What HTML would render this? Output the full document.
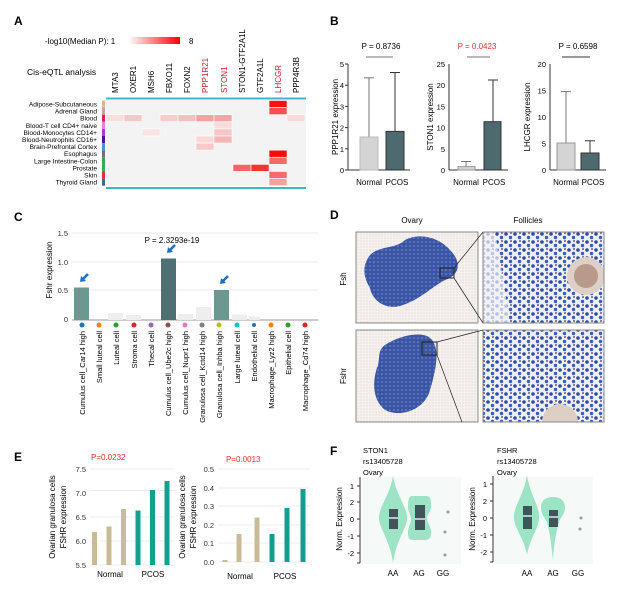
<!DOCTYPE html>
<html><head><meta charset="utf-8"><style>
body{margin:0;background:#fff}
svg{display:block;font-family:"Liberation Sans",Arial,sans-serif}
</style></head><body>
<svg width="644" height="589" viewBox="0 0 644 589" xmlns="http://www.w3.org/2000/svg">
<defs>
<linearGradient id="lg" x1="0" x2="1"><stop offset="0" stop-color="#fff"/><stop offset="1" stop-color="#f00"/></linearGradient>
<pattern id="cells" width="9" height="8" patternUnits="userSpaceOnUse"><rect width="9" height="8" fill="#eef0f6"/><circle cx="2" cy="2" r="1.8" fill="#2c4aa8"/><circle cx="6.5" cy="5.5" r="1.7" fill="#3a5bc0"/><circle cx="7" cy="1" r="1" fill="#6a5a70"/></pattern>
<pattern id="tis" width="4" height="4" patternUnits="userSpaceOnUse"><rect width="4" height="4" fill="#3a55a5"/><circle cx="2" cy="2" r="0.8" fill="#7f93c8"/></pattern>
<pattern id="bg" width="3" height="3" patternUnits="userSpaceOnUse"><rect width="3" height="3" fill="#f5f1ee"/><circle cx="1" cy="1" r="0.45" fill="#d0bdb0"/></pattern>
<clipPath id="c2"><rect x="483" y="330" width="121" height="92"/></clipPath>
<clipPath id="c1"><rect x="483" y="232" width="121" height="91"/></clipPath>
</defs>

<!-- ============ A ============ -->
<text x="14" y="25" font-size="12" font-weight="bold">A</text>
<text x="45" y="44" font-size="8">-log10(Median P): 1</text>
<rect x="128" y="37" width="52" height="7" fill="url(#lg)"/>
<text x="189" y="44" font-size="8">8</text>
<text x="27" y="75" font-size="8.5">Cis-eQTL analysis</text>
<g font-size="8">
<text transform="translate(118,93) rotate(-90)">MTA3</text>
<text transform="translate(136,93) rotate(-90)">OXER1</text>
<text transform="translate(154,93) rotate(-90)">MSH6</text>
<text transform="translate(172,93) rotate(-90)">FBXO11</text>
<text transform="translate(190,93) rotate(-90)">FOXN2</text>
<text transform="translate(208,93) rotate(-90)" fill="#d0202a">PPP1R21</text>
<text transform="translate(227,93) rotate(-90)" fill="#d0202a">STON1</text>
<text transform="translate(245,93) rotate(-90)">STON1-GTF2A1L</text>
<text transform="translate(263,93) rotate(-90)">GTF2A1L</text>
<text transform="translate(281,93) rotate(-90)" fill="#d0202a">LHCGR</text>
<text transform="translate(299,93) rotate(-90)">PPP4R3B</text>
</g>
<rect x="106" y="100" width="200" height="86" fill="#f3f3f3"/>
<g stroke="#fff" stroke-width="0.6">
<rect x="269" y="100.5" width="18" height="7" fill="#ff1010"/>
<rect x="269" y="107.6" width="18" height="7" fill="#f85050"/>
<rect x="269" y="150.2" width="18" height="7" fill="#ff0a0a"/>
<rect x="269" y="157.3" width="18" height="7" fill="#f76a6a"/>
<rect x="269" y="171.5" width="18" height="7" fill="#f66a6a"/>
<rect x="269" y="178.6" width="18" height="7" fill="#f5a0a0"/>
<rect x="106" y="114.7" width="18" height="7" fill="#f9dede"/>
<rect x="124" y="114.7" width="18" height="7" fill="#f7c8c8"/>
<rect x="160" y="114.7" width="18" height="7" fill="#f7cccc"/>
<rect x="178" y="114.7" width="18" height="7" fill="#f6c0c0"/>
<rect x="196" y="114.7" width="18" height="7" fill="#f3a2a2"/>
<rect x="214" y="114.7" width="18" height="7" fill="#f4a4a4"/>
<rect x="287" y="114.7" width="18" height="7" fill="#f9dada"/>
<rect x="214" y="121.8" width="18" height="7" fill="#f9dcdc"/>
<rect x="142" y="128.9" width="18" height="7" fill="#f9e2e2"/>
<rect x="214" y="128.9" width="18" height="7" fill="#f7c6c6"/>
<rect x="196" y="136" width="18" height="7" fill="#f9d8d8"/>
<rect x="214" y="136" width="18" height="7" fill="#f5b6b6"/>
<rect x="196" y="143.1" width="18" height="7" fill="#f7c8c8"/>
<rect x="233" y="164.4" width="18" height="7" fill="#f56464"/>
<rect x="251" y="164.4" width="18" height="7" fill="#f53434"/>
</g>
<line x1="106" y1="98.5" x2="306" y2="98.5" stroke="#3bb5c8" stroke-width="2"/>
<line x1="106" y1="188" x2="306" y2="188" stroke="#3bb5c8" stroke-width="2"/>
<g font-size="6.6" text-anchor="end">
<text x="97" y="106.5">Adipose-Subcutaneous</text>
<text x="97" y="113.6">Adrenal Gland</text>
<text x="97" y="120.7">Blood</text>
<text x="97" y="127.8">Blood-T cell CD4+ naive</text>
<text x="97" y="134.9">Blood-Monocytes CD14+</text>
<text x="97" y="142">Blood-Neutrophils CD16+</text>
<text x="97" y="149.1">Brain-Prefrontal Cortex</text>
<text x="97" y="156.2">Esophagus</text>
<text x="97" y="163.3">Large Intestine-Colon</text>
<text x="97" y="170.4">Prostate</text>
<text x="97" y="177.5">Skin</text>
<text x="97" y="184.6">Thyroid Gland</text>
</g>
<g>
<rect x="102" y="100.5" width="3" height="7.1" fill="#e0b88a"/>
<rect x="102" y="107.6" width="3" height="7.1" fill="#c9a0a0"/>
<rect x="102" y="114.7" width="3" height="7.1" fill="#e02050"/>
<rect x="102" y="121.8" width="3" height="7.1" fill="#e080e0"/>
<rect x="102" y="128.9" width="3" height="7.1" fill="#a040d0"/>
<rect x="102" y="136" width="3" height="7.1" fill="#501090"/>
<rect x="102" y="143.1" width="3" height="7.1" fill="#5090c8"/>
<rect x="102" y="150.2" width="3" height="7.1" fill="#707070"/>
<rect x="102" y="157.3" width="3" height="7.1" fill="#40a060"/>
<rect x="102" y="164.4" width="3" height="7.1" fill="#30b050"/>
<rect x="102" y="171.5" width="3" height="7.1" fill="#e03040"/>
<rect x="102" y="178.6" width="3" height="7.1" fill="#506090"/>
</g>

<!-- ============ B ============ -->
<text x="330" y="25" font-size="12" font-weight="bold">B</text>
<g font-size="8" stroke-width="1">
<text x="381" y="49" text-anchor="middle">P = 0.8736</text>
<line x1="366" y1="57" x2="393" y2="57" stroke="#777"/>
<line x1="348" y1="64" x2="348" y2="170" stroke="#333"/>
<line x1="348" y1="170" x2="410" y2="170" stroke="#333"/>
<g text-anchor="end" font-size="7.5">
<text x="344" y="173">0</text><text x="344" y="152">1</text><text x="344" y="130.6">2</text><text x="344" y="109.4">3</text><text x="344" y="88.2">4</text><text x="344" y="67">5</text></g>
<g stroke="#333"><line x1="345" y1="170" x2="348" y2="170"/><line x1="345" y1="148.8" x2="348" y2="148.8"/><line x1="345" y1="127.6" x2="348" y2="127.6"/><line x1="345" y1="106.4" x2="348" y2="106.4"/><line x1="345" y1="85.2" x2="348" y2="85.2"/><line x1="345" y1="64" x2="348" y2="64"/></g>
<line x1="369" y1="137" x2="369" y2="77.8" stroke="#777"/><line x1="364" y1="77.8" x2="374" y2="77.8" stroke="#777"/>
<rect x="360" y="137" width="18" height="33" fill="#d4d4d4" stroke="#bbb"/>
<line x1="395" y1="131.4" x2="395" y2="72.5" stroke="#333"/><line x1="390" y1="72.5" x2="400" y2="72.5" stroke="#333"/>
<rect x="386" y="131.4" width="18" height="38.6" fill="#4d6a6e" stroke="#333"/>
<text x="369" y="185" text-anchor="middle">Normal</text><text x="397" y="185" text-anchor="middle">PCOS</text>
<text transform="translate(338,117) rotate(-90)" text-anchor="middle">PPP1R21 expression</text>
<text x="477" y="49" text-anchor="middle" fill="#f03030">P = 0.0423</text>
<line x1="467" y1="57" x2="490" y2="57" stroke="#777"/>
<line x1="449" y1="64" x2="449" y2="170" stroke="#333"/>
<line x1="449" y1="170" x2="508" y2="170" stroke="#333"/>
<g text-anchor="end" font-size="7.5">
<text x="445" y="173">0</text><text x="445" y="152">5</text><text x="445" y="130.6">10</text><text x="445" y="109.4">15</text><text x="445" y="88.2">20</text><text x="445" y="67">25</text></g>
<line x1="466" y1="166.6" x2="466" y2="161.5" stroke="#777"/><line x1="461" y1="161.5" x2="471" y2="161.5" stroke="#777"/>
<rect x="458" y="166.6" width="17" height="3.4" fill="#d4d4d4" stroke="#999"/>
<line x1="493" y1="121.7" x2="493" y2="80" stroke="#333"/><line x1="488" y1="80" x2="498" y2="80" stroke="#333"/>
<rect x="484" y="121.7" width="17" height="48.3" fill="#4d6a6e" stroke="#333"/>
<text x="466" y="185" text-anchor="middle">Normal</text><text x="494" y="185" text-anchor="middle">PCOS</text>
<text transform="translate(433,117) rotate(-90)" text-anchor="middle">STON1 expression</text>
<text x="578" y="49" text-anchor="middle">P = 0.6598</text>
<line x1="562" y1="57" x2="590" y2="57" stroke="#333"/>
<line x1="550" y1="64" x2="550" y2="170" stroke="#333"/>
<line x1="550" y1="170" x2="606" y2="170" stroke="#333"/>
<g text-anchor="end" font-size="7.5">
<text x="546" y="173">0</text><text x="546" y="146.5">5</text><text x="546" y="120">10</text><text x="546" y="93.5">15</text><text x="546" y="67">20</text></g>
<line x1="566" y1="143" x2="566" y2="91.6" stroke="#777"/><line x1="561" y1="91.6" x2="571" y2="91.6" stroke="#777"/>
<rect x="557" y="143" width="18" height="27" fill="#d4d4d4" stroke="#999"/>
<line x1="590" y1="153" x2="590" y2="140.8" stroke="#333"/><line x1="585" y1="140.8" x2="595" y2="140.8" stroke="#333"/>
<rect x="581" y="153" width="18" height="17" fill="#4d6a6e" stroke="#333"/>
<text x="566" y="185" text-anchor="middle">Normal</text><text x="593" y="185" text-anchor="middle">PCOS</text>
<text transform="translate(530,117) rotate(-90)" text-anchor="middle">LHCGR expression</text>
</g>

<!-- ============ C ============ -->
<text x="14" y="221" font-size="12" font-weight="bold">C</text>
<g stroke="#e8e8e8"><line x1="72" y1="233" x2="318" y2="233"/><line x1="72" y1="262" x2="318" y2="262"/><line x1="72" y1="290" x2="318" y2="290"/></g>
<line x1="72" y1="320" x2="318" y2="320" stroke="#999"/>
<g font-size="7.5" fill="#333" text-anchor="end"><text x="68" y="236">1.5</text><text x="68" y="265">1.0</text><text x="68" y="293">0.5</text><text x="68" y="322">0</text></g>
<text transform="translate(52,270) rotate(-90)" text-anchor="middle" font-size="8">Fshr expression</text>
<text x="172" y="243" font-size="8" text-anchor="middle">P = 2.3293e-19</text>
<g>
<rect x="74" y="287.5" width="15" height="32.5" fill="#6d988f"/>
<rect x="108" y="313" width="15" height="7" fill="#eee"/>
<rect x="126" y="315" width="15" height="5" fill="#eee"/>
<rect x="161" y="258.5" width="15" height="61.5" fill="#4f6f74"/>
<rect x="178" y="314" width="15" height="6" fill="#eee"/>
<rect x="196" y="307" width="15" height="13" fill="#eee"/>
<rect x="214" y="290" width="15" height="30" fill="#6d988f"/>
<rect x="232" y="314.5" width="15" height="5.5" fill="#eee"/>
<rect x="249" y="316.5" width="11" height="3.5" fill="#eee"/>
</g>
<g fill="#1f70c0" stroke="#1f70c0">
<g transform="translate(80,282)"><line x1="2" y1="-2" x2="8" y2="-8" stroke-width="2.6"/><path d="M0,0 L6,-1 L1,-6Z" stroke="none"/></g>
<g transform="translate(167,253)"><line x1="2" y1="-2" x2="8" y2="-8" stroke-width="2.6"/><path d="M0,0 L6,-1 L1,-6Z" stroke="none"/></g>
<g transform="translate(220,284)"><line x1="2" y1="-2" x2="8" y2="-8" stroke-width="2.6"/><path d="M0,0 L6,-1 L1,-6Z" stroke="none"/></g>
</g>
<g>
<circle cx="82" cy="325" r="2.5" fill="#1f77b4"/><circle cx="99" cy="325" r="2.5" fill="#ff7f0e"/><circle cx="116" cy="325" r="2.5" fill="#2ca02c"/><circle cx="134" cy="325" r="2.5" fill="#d62728"/><circle cx="151" cy="325" r="2.5" fill="#9467bd"/><circle cx="168" cy="325" r="2.5" fill="#8c564b"/><circle cx="185" cy="325" r="2.5" fill="#e377c2"/><circle cx="202" cy="325" r="2.5" fill="#7f7f7f"/><circle cx="219" cy="325" r="2.5" fill="#bcbd22"/><circle cx="237" cy="325" r="2.5" fill="#17becf"/><circle cx="254" cy="325" r="2" fill="#1f77b4"/><circle cx="271" cy="325" r="2.5" fill="#ff7f0e"/><circle cx="288" cy="325" r="2.5" fill="#2ca02c"/><circle cx="305" cy="325" r="2.5" fill="#d62728"/>
</g>
<g font-size="7.5" text-anchor="end">
<text transform="translate(85,331) rotate(-90)">Cumulus cell_Car14 high</text>
<text transform="translate(102,331) rotate(-90)">Small luteal cell</text>
<text transform="translate(119,331) rotate(-90)">Luteal cell</text>
<text transform="translate(137,331) rotate(-90)">Stroma cell</text>
<text transform="translate(154,331) rotate(-90)">Thecal cell</text>
<text transform="translate(171,331) rotate(-90)">Cumulus cell_Ube2c high</text>
<text transform="translate(188,331) rotate(-90)">Cumulus cell_Nupr1 high</text>
<text transform="translate(205,331) rotate(-90)">Granulosa cell_Kctd14 high</text>
<text transform="translate(222,331) rotate(-90)">Granulosa cell_Inhba high</text>
<text transform="translate(240,331) rotate(-90)">Large luteal cell</text>
<text transform="translate(257,331) rotate(-90)">Endothelial cell</text>
<text transform="translate(274,331) rotate(-90)">Macrophage_Lyz2 high</text>
<text transform="translate(291,331) rotate(-90)">Epithelial cell</text>
<text transform="translate(308,331) rotate(-90)">Macrophage_Cd74 high</text>
</g>

<!-- ============ D ============ -->
<text x="330" y="219" font-size="12" font-weight="bold">D</text>
<text x="412" y="223" font-size="8" text-anchor="middle">Ovary</text>
<text x="528" y="223" font-size="8" text-anchor="middle">Follicles</text>
<text transform="translate(346,279) rotate(-90)" font-size="8" text-anchor="middle">Fsh</text>
<text transform="translate(346,376) rotate(-90)" font-size="8" text-anchor="middle">Fshr</text>
<rect x="356" y="232" width="122" height="91" fill="url(#bg)" stroke="#888"/>
<path d="M368,258 C375,245 395,250 405,240 C420,232 440,238 450,250 C462,262 460,275 445,280 C430,288 420,300 400,306 C385,310 372,300 370,288 C364,278 362,268 368,258Z" fill="url(#tis)"/>
<rect x="440" y="268" width="14" height="10" fill="none" stroke="#222"/>
<g clip-path="url(#c1)">
<rect x="483" y="232" width="121" height="91" fill="url(#cells)"/>
<path d="M483,232 L495,232 C500,260 505,290 510,323 L483,323Z" fill="#f4f2f4" opacity="0.7"/>
<circle cx="586" cy="276" r="19" fill="#ddd0c8"/>
<circle cx="586" cy="276" r="12" fill="#b8998a"/>
</g>
<rect x="483" y="232" width="121" height="91" fill="none" stroke="#888"/>
<line x1="454" y1="268" x2="483" y2="232" stroke="#222" stroke-width="0.7"/>
<line x1="454" y1="278" x2="483" y2="323" stroke="#222" stroke-width="0.7"/>
<rect x="356" y="330" width="122" height="92" fill="url(#bg)" stroke="#888"/>
<path d="M385,345 C400,335 425,330 432,340 C440,350 436,370 430,390 C425,410 400,418 385,410 C372,400 372,380 378,365 C380,355 378,350 385,345Z" fill="url(#tis)"/>
<rect x="422" y="342" width="15" height="13" fill="none" stroke="#222"/>
<g clip-path="url(#c2)">
<rect x="483" y="330" width="121" height="92" fill="url(#cells)"/>
<circle cx="560" cy="422" r="18" fill="#ddcfc6"/>
</g>
<rect x="483" y="330" width="121" height="92" fill="none" stroke="#888"/>
<line x1="437" y1="342" x2="483" y2="330" stroke="#222" stroke-width="0.7"/>
<line x1="437" y1="355" x2="462" y2="422" stroke="#222" stroke-width="0.7"/>

<!-- ============ E ============ -->
<text x="14" y="461" font-size="12" font-weight="bold">E</text>
<text x="91" y="460" font-size="8" fill="#f03030">P=0.0232</text>
<g stroke="#ececec"><line x1="90" y1="469" x2="175" y2="469"/><line x1="90" y1="490.5" x2="175" y2="490.5"/><line x1="90" y1="517" x2="175" y2="517"/><line x1="90" y1="541" x2="175" y2="541"/><line x1="90" y1="565" x2="175" y2="565"/></g>
<g font-size="7.5" fill="#333" text-anchor="end"><text x="86" y="472">7.5</text><text x="86" y="496">7.0</text><text x="86" y="520">6.5</text><text x="86" y="544">6.0</text><text x="86" y="568">5.5</text></g>
<text transform="translate(55,517) rotate(-90)" font-size="8" text-anchor="middle">Ovarian granulosa cells</text>
<text transform="translate(66,517) rotate(-90)" font-size="8" text-anchor="middle">FSHR expression</text>
<g>
<rect x="92" y="532" width="5" height="33" fill="#c8bb98"/>
<rect x="106.5" y="526.5" width="5" height="38.5" fill="#c8bb98"/>
<rect x="121" y="509" width="5" height="56" fill="#c8bb98"/>
<rect x="135.5" y="510.5" width="5" height="54.5" fill="#10a090"/>
<rect x="150" y="490" width="5" height="75" fill="#10a090"/>
<rect x="164.5" y="481" width="5" height="84" fill="#10a090"/>
</g>
<text x="110" y="577" font-size="8" text-anchor="middle">Normal</text><text x="153" y="577" font-size="8" text-anchor="middle">PCOS</text>
<text x="226" y="462" font-size="8" fill="#f03030">P=0.0013</text>
<g stroke="#ececec"><line x1="218" y1="469" x2="310" y2="469"/><line x1="218" y1="488" x2="310" y2="488"/><line x1="218" y1="506" x2="310" y2="506"/><line x1="218" y1="525" x2="310" y2="525"/><line x1="218" y1="543" x2="310" y2="543"/><line x1="218" y1="562" x2="310" y2="562"/></g>
<g font-size="7.5" fill="#333" text-anchor="end"><text x="214" y="472">0.5</text><text x="214" y="491">0.4</text><text x="214" y="509">0.3</text><text x="214" y="528">0.2</text><text x="214" y="546">0.1</text><text x="214" y="565">0.0</text></g>
<text transform="translate(185,517) rotate(-90)" font-size="8" text-anchor="middle">Ovarian granulosa cells</text>
<text transform="translate(196,517) rotate(-90)" font-size="8" text-anchor="middle">FSHR expression</text>
<g>
<rect x="222.5" y="560" width="5" height="2" fill="#c8bb98"/>
<rect x="236.5" y="534" width="5" height="28" fill="#c8bb98"/>
<rect x="254.5" y="517.5" width="5" height="44.5" fill="#c8bb98"/>
<rect x="269.5" y="534" width="5" height="28" fill="#10a090"/>
<rect x="284.5" y="508" width="5" height="54" fill="#10a090"/>
<rect x="300.5" y="489" width="5" height="73" fill="#10a090"/>
</g>
<text x="240" y="579" font-size="8" text-anchor="middle">Normal</text><text x="285" y="579" font-size="8" text-anchor="middle">PCOS</text>

<!-- ============ F ============ -->
<text x="330" y="455" font-size="12" font-weight="bold">F</text>
<g font-size="7.5">
<text x="363" y="453">STON1</text><text x="363" y="464">rs13405728</text><text x="363" y="475">Ovary</text>
<text x="497" y="453">FSHR</text><text x="497" y="464">rs13405728</text><text x="497" y="475">Ovary</text>
</g>
<rect x="362" y="477" width="99" height="87" fill="#f5f9f8"/>
<rect x="494" y="477" width="99" height="87" fill="#f5f9f8"/>
<g stroke="#333" stroke-width="1">
<line x1="360" y1="477" x2="360" y2="563"/>
<line x1="357" y1="486" x2="360" y2="486"/><line x1="357" y1="502" x2="360" y2="502"/><line x1="357" y1="519" x2="360" y2="519"/><line x1="357" y1="536" x2="360" y2="536"/><line x1="357" y1="553" x2="360" y2="553"/><line x1="357" y1="563" x2="360" y2="563"/>
<line x1="493" y1="476" x2="493" y2="562"/>
<line x1="490" y1="484" x2="493" y2="484"/><line x1="490" y1="501" x2="493" y2="501"/><line x1="490" y1="518" x2="493" y2="518"/><line x1="490" y1="535" x2="493" y2="535"/><line x1="490" y1="552" x2="493" y2="552"/><line x1="490" y1="562" x2="493" y2="562"/>
</g>
<g font-size="7.5" text-anchor="end">
<text x="354" y="489">1</text><text x="354" y="505">2</text><text x="354" y="522">0</text><text x="354" y="539">-1</text><text x="354" y="556">-2</text>
<text x="487" y="487">1</text><text x="487" y="504">2</text><text x="487" y="521">0</text><text x="487" y="538">-1</text><text x="487" y="555">-2</text>
</g>
<text transform="translate(342,519) rotate(-90)" font-size="8" text-anchor="middle">Norm. Expression</text>
<text transform="translate(475,519) rotate(-90)" font-size="8" text-anchor="middle">Norm. Expression</text>
<g fill="#9de3c5">
<path d="M393,476 C396,495 408,508 407,519 C406,530 396,540 393,563 C390,540 380,530 379,519 C378,508 390,495 393,476Z"/>
<path d="M412,496 L427,496 C431,497 431,500 431,507 C431,512 426,515 427,519 C428,524 431,526 431,533 C431,539 428,540 424,540 L414,540 C409,540 408,538 408,533 C408,526 411,524 411,519 C411,515 408,512 408,507 C408,499 409,496 412,496Z"/>
<path d="M527,475 C530,495 540,507 539,518 C538,530 530,538 527,555 C524,538 515,530 514,518 C513,507 524,495 527,475Z"/>
<path d="M553,497 C560,497 565,500 565,508 C565,514 560,518 559,522 C557,530 554,540 553,561 C551,540 549,530 547,522 C545,518 541,514 541,508 C541,500 546,497 553,497Z"/>
</g>
<g fill="#41545a">
<rect x="389" y="509" width="9" height="20"/>
<rect x="415" y="505" width="10" height="25"/>
<rect x="523" y="506" width="9" height="23"/>
<rect x="549" y="510" width="9" height="17"/>
</g>
<g stroke="#fff" stroke-width="1.3">
<line x1="389" y1="518" x2="398" y2="518"/><line x1="415" y1="519" x2="425" y2="519"/><line x1="523" y1="516" x2="532" y2="516"/><line x1="549" y1="517" x2="558" y2="517"/>
</g>
<g fill="#999">
<circle cx="448" cy="512" r="1.5"/><circle cx="445" cy="532" r="1.5"/><circle cx="445" cy="555" r="1.5"/>
<circle cx="581" cy="518" r="1.5"/><circle cx="580" cy="529" r="1.5"/>
</g>
<g font-size="8" text-anchor="middle">
<text x="393" y="576">AA</text><text x="419" y="576">AG</text><text x="443" y="576">GG</text>
<text x="527" y="576">AA</text><text x="553" y="576">AG</text><text x="578" y="576">GG</text>
</g>
</svg>
</body></html>
